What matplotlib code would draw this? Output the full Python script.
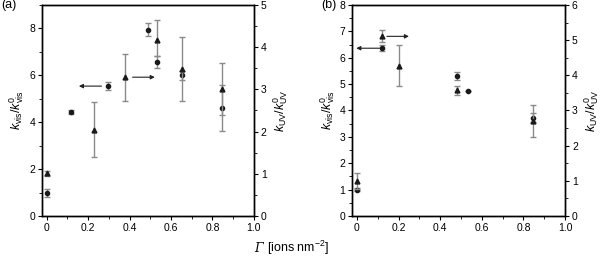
import numpy as np
import matplotlib
matplotlib.use('Agg')
import matplotlib.pyplot as plt
from matplotlib.ticker import MultipleLocator

plt.rcParams.update({
    'font.family': 'Liberation Sans',
    'font.size': 7.5,
    'mathtext.fontset': 'custom',
    'mathtext.rm': 'Liberation Sans',
    'mathtext.it': 'Liberation Sans:italic',
    'axes.linewidth': 1.0,
    'xtick.major.size': 3,
    'ytick.major.size': 3,
    'xtick.minor.size': 2,
    'ytick.minor.size': 2,
})

# panel (a): k_vis (circles, left axis)
a_vis_x = [0.0, 0.117, 0.294, 0.487, 0.535, 0.653, 0.847]
a_vis_y = [1.0, 4.45, 5.54, 7.94, 6.56, 6.0, 4.62]
a_vis_lo = [0.17, 0.09, 0.18, 0.27, 0.26, 0.18, 0.33]
a_vis_hi = [0.17, 0.09, 0.18, 0.27, 0.26, 0.18, 0.95]
# panel (a): k_UV (triangles, right axis)
a_uv_x = [0.0, 0.23, 0.378, 0.535, 0.653, 0.847]
a_uv_y = [1.01, 2.05, 3.29, 4.17, 3.49, 3.0]
a_uv_lo = [0.05, 0.66, 0.56, 0.38, 0.76, 0.98]
a_uv_hi = [0.05, 0.66, 0.55, 0.48, 0.76, 0.62]

# panel (b)
b_vis_x = [0.0, 0.122, 0.483, 0.536, 0.847]
b_vis_y = [1.0, 6.36, 5.29, 4.73, 3.73]
b_vis_err = [0.05, 0.12, 0.15, 0.0, 0.17]
b_uv_x = [0.0, 0.122, 0.2, 0.483, 0.847]
b_uv_y = [0.99, 5.11, 4.27, 3.57, 2.70]
b_uv_err = [0.22, 0.17, 0.58, 0.14, 0.45]

ecol = '#8a8a8a'
mcol = '#1a1a1a'

fig = plt.figure(figsize=(6.06, 2.6), dpi=100)
axa = fig.add_axes([0.0693, 0.169, 0.3497, 0.812])
axb = fig.add_axes([0.5814, 0.169, 0.3510, 0.812])


def style(ax, tw, ymax, ytmaj, ytmin, tymax, tymaj, tymin):
    ax.set_xlim(-0.022, 1.0)
    ax.set_ylim(0, ymax)
    tw.set_ylim(0, tymax)
    ax.xaxis.set_minor_locator(MultipleLocator(0.1))
    ax.yaxis.set_major_locator(MultipleLocator(ytmaj))
    ax.yaxis.set_minor_locator(MultipleLocator(ytmin))
    tw.yaxis.set_major_locator(MultipleLocator(tymaj))
    tw.yaxis.set_minor_locator(MultipleLocator(tymin))
    ax.set_xticks([0, 0.2, 0.4, 0.6, 0.8, 1.0])
    ax.set_xticklabels(['0', '0.2', '0.4', '0.6', '0.8', '1.0'])
    ax.tick_params(which='both', top=False, pad=2)
    tw.tick_params(which='both', pad=2)
    ax.set_ylabel(r'$k_\mathrm{vis}/k^0_\mathrm{vis}$', fontsize=9, labelpad=2)
    tw.set_ylabel(r'$k_\mathrm{UV}/k^0_\mathrm{UV}$', fontsize=9, labelpad=3)


kw = dict(color=mcol, ecolor=ecol, elinewidth=1, capsize=2.5, capthick=1)

# panel (a)
twa = axa.twinx()
style(axa, twa, 9, 2, 1, 5, 1, 0.5)
axa.errorbar(a_vis_x, a_vis_y, yerr=[a_vis_lo, a_vis_hi], fmt='o', ms=3, **kw)
twa.errorbar(a_uv_x, a_uv_y, yerr=[a_uv_lo, a_uv_hi], fmt='^', ms=3.5, **kw)
arrow = dict(arrowstyle='-|>', lw=0.8, color='#222222', mutation_scale=6,
             shrinkA=0, shrinkB=0)
axa.annotate('', xy=(0.156, 5.54), xytext=(0.265, 5.54), arrowprops=arrow)
axa.annotate('', xy=(0.522, 5.92), xytext=(0.415, 5.92), arrowprops=arrow)
axa.text(-0.19, 1.0, '(a)', transform=axa.transAxes, fontsize=9,
         ha='left', va='center')

# panel (b)
twb = axb.twinx()
style(axb, twb, 8, 1, 0.5, 6, 1, 0.5)
axb.errorbar(b_vis_x, b_vis_y, yerr=b_vis_err, fmt='o', ms=3, **kw)
twb.errorbar(b_uv_x, b_uv_y, yerr=b_uv_err, fmt='^', ms=3.5, **kw)
axb.annotate('', xy=(-0.003, 6.36), xytext=(0.113, 6.36), arrowprops=arrow)
axb.annotate('', xy=(0.25, 6.81), xytext=(0.144, 6.81), arrowprops=arrow)
axb.text(-0.145, 1.0, '(b)', transform=axb.transAxes, fontsize=9,
         ha='left', va='center')

fig.text(0.433, 0.045, 'Γ', ha='right', va='center', fontsize=9,
         fontstyle='italic', family='DejaVu Serif')
fig.text(0.440, 0.045, r'[ions nm$^{-2}$]', ha='left', va='center',
         fontsize=9)

fig.savefig('out.png', dpi=100)
